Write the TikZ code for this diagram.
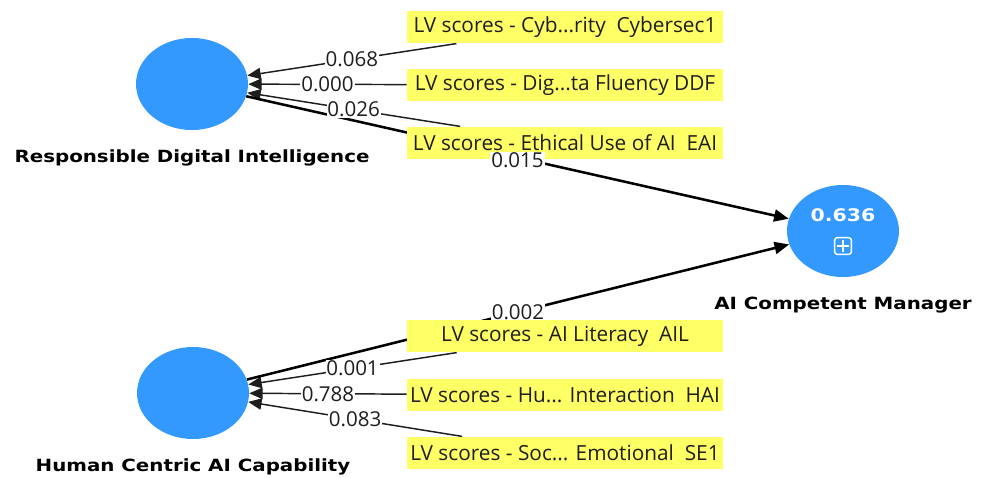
\documentclass[tikz,border=0pt]{standalone}
\usepackage{fontspec}
\setmainfont{Open Sans}
\newfontfamily\headfont{DejaVu Sans}[FakeStretch=1.18]
\usetikzlibrary{arrows.meta,shapes.geometric}
\definecolor{lvblue}{RGB}{51,153,255}
\definecolor{lvyellow}{RGB}{255,255,102}
\definecolor{txt}{RGB}{30,30,30}
\pgfdeclarelayer{bg}
\pgfsetlayers{bg,main}
\begin{document}
\begin{tikzpicture}[x=0.75pt,y=-0.75pt,
  lv/.style={ellipse,fill=lvblue,draw=none,minimum width=84pt,minimum height=69pt,inner sep=0pt},
  ind/.style={rectangle,fill=lvyellow,draw=none,minimum width=237pt,minimum height=24.5pt,inner sep=0pt,font=\fontsize{15.6}{17}\selectfont,text=txt},
  cname/.style={font=\headfont\bfseries\fontsize{12.6}{14}\selectfont,text=black},
  load/.style={draw=txt,line width=1.1pt,-{Triangle[length=10pt,width=8.5pt]}},
  struct/.style={draw=black,line width=1.9pt,-{Triangle[length=11pt,width=9pt]}},
  coef/.style={fill=white,inner sep=0.6pt,font=\fontsize{15.4}{16}\selectfont,text=txt}]
\useasboundingbox (0,0) rectangle (982,478);
% latent variables
\node[lv] (rdi) at (192,84) {};
\node[lv] (hca) at (193,393) {};
\node[lv] (acm) at (843,231) {};
\node[cname] (rdil) at (192,158) {Responsible Digital Intelligence};
\node[cname] (hcal) at (193,467) {Human Centric AI Capability};
\node[cname] (acml) at (843,305) {AI Competent Manager};
% R2 and expand icon
\node[font=\headfont\bfseries\fontsize{13}{14}\selectfont,text=white] (r2) at (843,215) {0.636};
\node[draw=white,line width=1.1pt,rounded corners=2pt,minimum size=12.5pt,inner sep=0pt] (plus) at (843,246) {};
\draw[white,line width=1.1pt] ([yshift=-2.5pt]plus.north) -- ([yshift=2.5pt]plus.south);
\draw[white,line width=1.1pt] ([xshift=2.5pt]plus.west) -- ([xshift=-2.5pt]plus.east);
% indicators
\node[ind] (cy) at (565,27) {LV scores - Cyb...rity~ Cybersec1};
\node[ind] (ddf) at (565,85) {LV scores - Dig...ta Fluency DDF};
\node[ind] (eai) at (565,143) {LV scores - Ethical Use of AI~ EAI};
\node[ind] (ail) at (565,336) {LV scores - AI Literacy~ AIL};
\node[ind] (hai) at (565,395) {LV scores - Hu... Interaction~ HAI};
\node[ind] (se) at (565,453) {LV scores - Soc... Emotional~ SE1};
% connectors
\begin{pgfonlayer}{bg}
\draw[load] (cy) -- coordinate (m1) (rdi);
\draw[load] (ddf) -- coordinate (m2) (rdi);
\draw[load] (eai) -- coordinate (m3) (rdi);
\draw[load] (ail) -- coordinate (m4) (hca);
\draw[load] (hai) -- coordinate (m5) (hca);
\draw[load] (se) -- coordinate (m6) (hca);
\draw[struct] (rdi) -- coordinate (m7) (acm);
\draw[struct] (hca) -- coordinate (m8) (acm);
\end{pgfonlayer}
% coefficients
\node[coef] (c1) at (m1) {0.068};
\node[coef] (c2) at (m2) {0.000};
\node[coef] (c3) at (m3) {0.026};
\node[coef] (c4) at (m4) {0.001};
\node[coef] (c5) at (m5) {0.788};
\node[coef] (c6) at (m6) {0.083};
\node[coef] (c7) at ([yshift=-2pt]m7) {0.015};
\node[coef] (c8) at (m8) {0.002};
\end{tikzpicture}
\end{document}
